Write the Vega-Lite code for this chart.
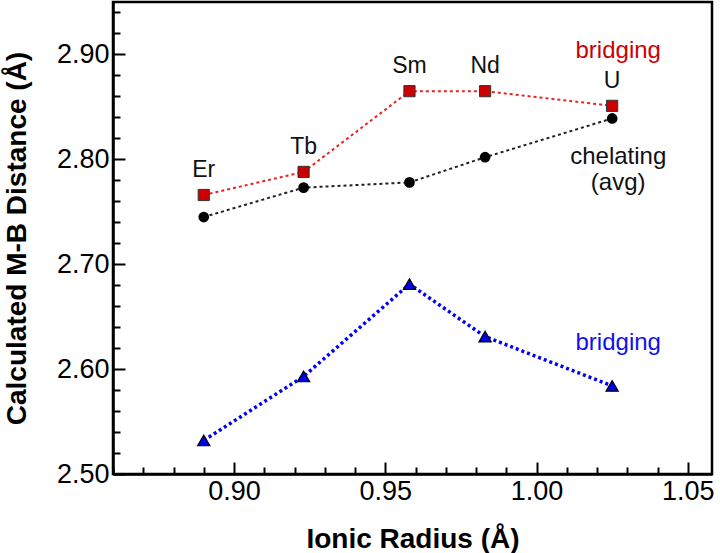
{
  "$schema": "https://vega.github.io/schema/vega-lite/v6.json",
  "width": 599,
  "height": 472,
  "autosize": {"type": "none"},
  "padding": {"left": 113, "top": 2, "right": 8, "bottom": 79},
  "background": "white",
  "config": {
    "view": {"stroke": "black", "strokeWidth": 2.5},
    "font": "Liberation Sans",
    "axis": {
      "labelFont": "Liberation Sans",
      "titleFont": "Liberation Sans",
      "labelColor": "black",
      "titleColor": "black",
      "domainColor": "black",
      "tickColor": "black",
      "grid": false
    }
  },
  "datasets": {
    "top": [
      {"ion": "Er", "r": 0.89, "d": 2.766},
      {"ion": "Tb", "r": 0.923, "d": 2.788},
      {"ion": "Sm", "r": 0.958, "d": 2.865},
      {"ion": "Nd", "r": 0.983, "d": 2.865},
      {"ion": "U", "r": 1.025, "d": 2.851}
    ],
    "chel": [
      {"ion": "Er", "r": 0.89, "d": 2.745},
      {"ion": "Tb", "r": 0.923, "d": 2.773},
      {"ion": "Sm", "r": 0.958, "d": 2.778},
      {"ion": "Nd", "r": 0.983, "d": 2.802},
      {"ion": "U", "r": 1.025, "d": 2.839}
    ],
    "low": [
      {"ion": "Er", "r": 0.89, "d": 2.532},
      {"ion": "Tb", "r": 0.923, "d": 2.593},
      {"ion": "Sm", "r": 0.958, "d": 2.681},
      {"ion": "Nd", "r": 0.983, "d": 2.631},
      {"ion": "U", "r": 1.025, "d": 2.584}
    ],
    "notes": [
      {"r": 1.027, "d": 2.9036, "t": "bridging", "c": "#cc0000"},
      {"r": 1.027, "d": 2.8025, "t": "chelating", "c": "#111111"},
      {"r": 1.027, "d": 2.777, "t": "(avg)", "c": "#111111"},
      {"r": 1.027, "d": 2.6248, "t": "bridging", "c": "#1010ee"}
    ]
  },
  "resolve": {"axis": {"x": "independent", "y": "independent"}},
  "layer": [
    {
      "data": {"name": "top"},
      "mark": {"type": "line", "color": "#e8231f", "strokeWidth": 2, "strokeDash": [3, 3]},
      "encoding": {
        "x": {
          "field": "r", "type": "quantitative",
          "scale": {"domain": [0.86, 1.058], "nice": false, "zero": false},
          "axis": {
            "orient": "bottom",
            "values": [0.9, 0.95, 1.0, 1.05],
            "format": ".2f",
            "title": "Ionic Radius (Å)",
            "titleFontSize": 28,
            "titleFontWeight": "bold",
            "titlePadding": 21,
            "labelFontSize": 27,
            "labelPadding": 16,
            "tickSize": -12,
            "tickWidth": 2,
            "domainWidth": 2.5
          }
        },
        "y": {
          "field": "d", "type": "quantitative",
          "scale": {"domain": [2.5, 2.95], "nice": false, "zero": false},
          "axis": {
            "orient": "left",
            "values": [2.5, 2.6, 2.7, 2.8, 2.9],
            "format": ".2f",
            "title": "Calculated M-B Distance (Å)",
            "titleFontSize": 28,
            "titleFontWeight": "bold",
            "titlePadding": 25,
            "labelFontSize": 27,
            "labelPadding": 16,
            "tickSize": -12,
            "tickWidth": 2,
            "domainWidth": 2.5
          }
        }
      }
    },
    {
      "data": {"name": "top"},
      "mark": {"type": "point", "shape": "square", "filled": true, "fill": "#cc0000", "stroke": "#333333", "strokeWidth": 1, "size": 125, "opacity": 1},
      "encoding": {
        "x": {
          "field": "r", "type": "quantitative",
          "axis": {
            "orient": "bottom",
            "values": [0.86, 0.87, 0.88, 0.89, 0.91, 0.92, 0.93, 0.94, 0.96, 0.97, 0.98, 0.99, 1.01, 1.02, 1.03, 1.04],
            "labels": false,
            "title": null,
            "domain": false,
            "tickSize": -7,
            "tickWidth": 2
          }
        },
        "y": {
          "field": "d", "type": "quantitative",
          "axis": {
            "orient": "left",
            "values": [2.52, 2.54, 2.56, 2.58, 2.62, 2.64, 2.66, 2.68, 2.72, 2.74, 2.76, 2.78, 2.82, 2.84, 2.86, 2.88, 2.92, 2.94],
            "labels": false,
            "title": null,
            "domain": false,
            "tickSize": -7,
            "tickWidth": 2
          }
        }
      }
    },
    {
      "data": {"name": "top"},
      "mark": {"type": "text", "fontSize": 23, "dy": -25, "color": "#111111", "font": "Liberation Sans"},
      "encoding": {
        "x": {"field": "r", "type": "quantitative", "axis": null},
        "y": {"field": "d", "type": "quantitative", "axis": null},
        "text": {"field": "ion"}
      }
    },
    {
      "data": {"name": "chel"},
      "mark": {"type": "line", "color": "#222222", "strokeWidth": 2, "strokeDash": [3, 3]},
      "encoding": {
        "x": {"field": "r", "type": "quantitative", "axis": null},
        "y": {"field": "d", "type": "quantitative", "axis": null}
      }
    },
    {
      "data": {"name": "chel"},
      "mark": {"type": "point", "shape": "circle", "filled": true, "color": "black", "size": 115, "opacity": 1},
      "encoding": {
        "x": {"field": "r", "type": "quantitative", "axis": null},
        "y": {"field": "d", "type": "quantitative", "axis": null}
      }
    },
    {
      "data": {"name": "low"},
      "mark": {"type": "line", "color": "#0000ff", "strokeWidth": 3.5, "strokeDash": [3, 3]},
      "encoding": {
        "x": {"field": "r", "type": "quantitative", "axis": null},
        "y": {"field": "d", "type": "quantitative", "axis": null}
      }
    },
    {
      "data": {"name": "low"},
      "mark": {"type": "point", "shape": "triangle-up", "filled": true, "fill": "#0000ee", "stroke": "black", "strokeWidth": 1.2, "size": 150, "opacity": 1},
      "encoding": {
        "x": {"field": "r", "type": "quantitative", "axis": null},
        "y": {"field": "d", "type": "quantitative", "axis": null}
      }
    },
    {
      "data": {"name": "notes"},
      "mark": {"type": "text", "fontSize": 24, "font": "Liberation Sans"},
      "encoding": {
        "x": {"field": "r", "type": "quantitative", "axis": null},
        "y": {"field": "d", "type": "quantitative", "axis": null},
        "text": {"field": "t"},
        "color": {"field": "c", "type": "nominal", "scale": null}
      }
    }
  ]
}
